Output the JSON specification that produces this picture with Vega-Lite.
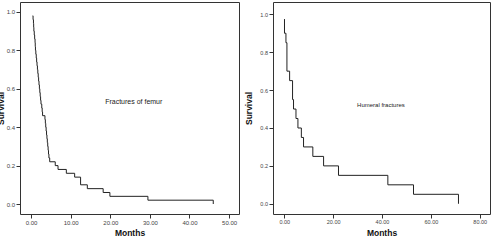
{
  "$schema": "https://vega.github.io/schema/vega-lite/v6.json",
  "padding": {"left": -5, "top": 1, "right": 0, "bottom": 0},
  "background": "white",
  "bounds": "flush",
  "spacing": 34,
  "config": {
    "view": {"stroke": "#333333", "strokeWidth": 1},
    "font": "Liberation Sans Narrow, Liberation Sans",
    "axis": {
      "domain": false,
      "grid": false,
      "tickColor": "#333333",
      "tickSize": 4,
      "labelFont": "Liberation Sans Narrow, Liberation Sans",
      "labelFontSize": 6,
      "labelColor": "#444444",
      "labelPadding": 1.5,
      "titleFont": "Liberation Sans Narrow, Liberation Sans",
      "titleFontSize": 8.5,
      "titleFontWeight": "bold",
      "titleColor": "#111111"
    }
  },
  "datasets": {
    "femur": [
      {"i": 1, "months": 0.4, "survival": 0.98},
      {"i": 2, "months": 0.5, "survival": 0.96},
      {"i": 3, "months": 0.6, "survival": 0.94},
      {"i": 4, "months": 0.65, "survival": 0.92},
      {"i": 5, "months": 0.7, "survival": 0.90},
      {"i": 6, "months": 0.8, "survival": 0.88},
      {"i": 7, "months": 0.9, "survival": 0.86},
      {"i": 8, "months": 1.0, "survival": 0.84},
      {"i": 9, "months": 1.05, "survival": 0.82},
      {"i": 10, "months": 1.1, "survival": 0.80},
      {"i": 11, "months": 1.2, "survival": 0.78},
      {"i": 12, "months": 1.3, "survival": 0.76},
      {"i": 13, "months": 1.4, "survival": 0.74},
      {"i": 14, "months": 1.5, "survival": 0.72},
      {"i": 15, "months": 1.6, "survival": 0.70},
      {"i": 16, "months": 1.7, "survival": 0.68},
      {"i": 17, "months": 1.8, "survival": 0.66},
      {"i": 18, "months": 1.9, "survival": 0.64},
      {"i": 19, "months": 2.0, "survival": 0.62},
      {"i": 20, "months": 2.1, "survival": 0.60},
      {"i": 21, "months": 2.2, "survival": 0.58},
      {"i": 22, "months": 2.3, "survival": 0.56},
      {"i": 23, "months": 2.4, "survival": 0.54},
      {"i": 24, "months": 2.5, "survival": 0.52},
      {"i": 25, "months": 2.7, "survival": 0.50},
      {"i": 26, "months": 2.8, "survival": 0.48},
      {"i": 27, "months": 2.9, "survival": 0.46},
      {"i": 28, "months": 3.5, "survival": 0.44},
      {"i": 29, "months": 3.6, "survival": 0.42},
      {"i": 30, "months": 3.7, "survival": 0.40},
      {"i": 31, "months": 3.8, "survival": 0.38},
      {"i": 32, "months": 3.9, "survival": 0.36},
      {"i": 33, "months": 4.0, "survival": 0.34},
      {"i": 34, "months": 4.1, "survival": 0.32},
      {"i": 35, "months": 4.2, "survival": 0.30},
      {"i": 36, "months": 4.3, "survival": 0.28},
      {"i": 37, "months": 4.4, "survival": 0.26},
      {"i": 38, "months": 4.5, "survival": 0.24},
      {"i": 39, "months": 4.7, "survival": 0.22},
      {"i": 40, "months": 6.1, "survival": 0.20},
      {"i": 41, "months": 6.8, "survival": 0.18},
      {"i": 42, "months": 8.9, "survival": 0.16},
      {"i": 43, "months": 11.0, "survival": 0.14},
      {"i": 44, "months": 12.5, "survival": 0.10},
      {"i": 45, "months": 14.2, "survival": 0.08},
      {"i": 46, "months": 18.2, "survival": 0.06},
      {"i": 47, "months": 19.9, "survival": 0.04},
      {"i": 48, "months": 29.5, "survival": 0.02},
      {"i": 49, "months": 46.0, "survival": 0.0}
    ],
    "humerus": [
      {"i": 1, "months": 0.1, "survival": 0.975},
      {"i": 2, "months": 0.1, "survival": 0.90},
      {"i": 3, "months": 0.7, "survival": 0.85},
      {"i": 4, "months": 1.1, "survival": 0.70},
      {"i": 5, "months": 2.2, "survival": 0.65},
      {"i": 6, "months": 3.4, "survival": 0.55},
      {"i": 7, "months": 3.8, "survival": 0.50},
      {"i": 8, "months": 4.8, "survival": 0.45},
      {"i": 9, "months": 5.6, "survival": 0.40},
      {"i": 10, "months": 7.0, "survival": 0.35},
      {"i": 11, "months": 7.9, "survival": 0.30},
      {"i": 12, "months": 11.7, "survival": 0.25},
      {"i": 13, "months": 16.1, "survival": 0.20},
      {"i": 14, "months": 22.2, "survival": 0.15},
      {"i": 15, "months": 42.4, "survival": 0.10},
      {"i": 16, "months": 52.9, "survival": 0.05},
      {"i": 17, "months": 71.3, "survival": 0.0}
    ],
    "labels": [
      {"panel": "femur", "months": 18.7, "survival": 0.53, "text": "Fractures of femur"},
      {"panel": "humerus", "months": 29.8, "survival": 0.52, "text": "Humeral fractures"}
    ]
  },
  "hconcat": [
    {
      "width": 219,
      "height": 212,
      "layer": [
        {
          "data": {"name": "femur"},
          "mark": {"type": "line", "interpolate": "step-after", "color": "#222222", "strokeWidth": 1},
          "encoding": {
            "x": {"field": "months", "type": "quantitative",
              "scale": {"domain": [-2.8, 52.5], "nice": false, "zero": false},
              "axis": {"values": [0, 10, 20, 30, 40, 50], "format": ".2f", "title": "Months", "titlePadding": 3}},
            "y": {"field": "survival", "type": "quantitative",
              "scale": {"domain": [-0.052, 1.052], "nice": false, "zero": false},
              "axis": {"values": [0, 0.2, 0.4, 0.6, 0.8, 1.0], "format": ".1f", "title": "Survival", "titlePadding": 1}},
            "order": {"field": "i", "type": "quantitative"}
          }
        },
        {
          "data": {"name": "labels"},
          "transform": [{"filter": "datum.panel === 'femur'"}],
          "mark": {"type": "text", "align": "left", "baseline": "middle", "fontSize": 7, "color": "#222222"},
          "encoding": {
            "x": {"field": "months", "type": "quantitative"},
            "y": {"field": "survival", "type": "quantitative"},
            "text": {"field": "text"}
          }
        }
      ]
    },
    {
      "width": 217,
      "height": 212,
      "layer": [
        {
          "data": {"name": "humerus"},
          "mark": {"type": "line", "interpolate": "step-after", "color": "#222222", "strokeWidth": 1},
          "encoding": {
            "x": {"field": "months", "type": "quantitative",
              "scale": {"domain": [-4.6, 84.2], "nice": false, "zero": false},
              "axis": {"values": [0, 20, 40, 60, 80], "format": ".2f", "title": "Months", "titlePadding": 3, "labelFontSize": 5.5}},
            "y": {"field": "survival", "type": "quantitative",
              "scale": {"domain": [-0.054, 1.065], "nice": false, "zero": false},
              "axis": {"values": [0, 0.2, 0.4, 0.6, 0.8, 1.0], "format": ".1f", "title": "Survival", "titlePadding": 6, "labelFontSize": 5.5}},
            "order": {"field": "i", "type": "quantitative"}
          }
        },
        {
          "data": {"name": "labels"},
          "transform": [{"filter": "datum.panel === 'humerus'"}],
          "mark": {"type": "text", "align": "left", "baseline": "middle", "fontSize": 6, "color": "#222222"},
          "encoding": {
            "x": {"field": "months", "type": "quantitative"},
            "y": {"field": "survival", "type": "quantitative"},
            "text": {"field": "text"}
          }
        }
      ]
    }
  ]
}
